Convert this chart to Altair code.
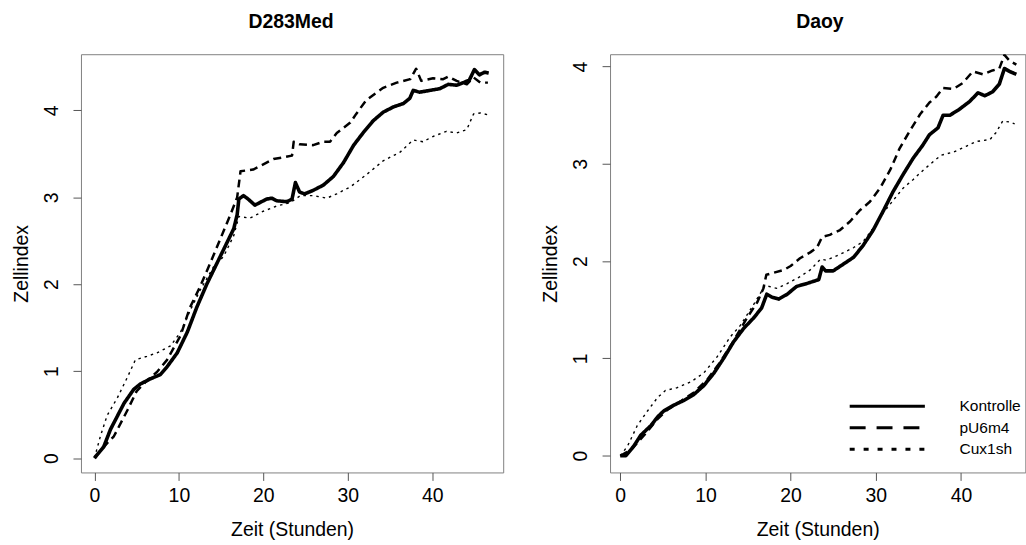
import altair as alt
import pandas as pd

# ---------------- data (time in hours, cell index) ----------------
SERIES = ["Kontrolle", "pU6m4", "Cux1sh"]

d283_kontrolle = [(0, 0), (1.1, 0.13), (1.9, 0.33), (3.5, 0.63), (4.65, 0.79), (5.4, 0.85), (6.6, 0.91),
                  (7.8, 0.96), (8.6, 1.05), (9.8, 1.21), (11.0, 1.45), (12.1, 1.73), (13.3, 2.0), (14.5, 2.24),
                  (15.7, 2.48), (16.5, 2.64), (16.9, 2.80), (17.1, 2.98), (17.65, 3.02), (18.2, 2.98),
                  (19.0, 2.91), (20.4, 2.98), (21.0, 2.99), (21.6, 2.96), (22.8, 2.95), (23.4, 2.98),
                  (23.8, 3.17), (24.3, 3.06), (24.9, 3.04), (25.9, 3.08), (27.1, 3.14), (28.3, 3.24),
                  (29.5, 3.40), (30.7, 3.60), (31.8, 3.74), (33.0, 3.88), (34.2, 3.98), (35.4, 4.04),
                  (36.6, 4.08), (37.35, 4.14), (37.75, 4.23), (38.5, 4.21), (39.7, 4.23), (40.9, 4.25),
                  (41.9, 4.30), (42.9, 4.29), (43.7, 4.32), (44.4, 4.35), (45.0, 4.47), (45.6, 4.41),
                  (46.2, 4.44), (46.7, 4.43)]
d283_pu6m4 = [(0, 0), (1.5, 0.17), (2.3, 0.25), (3.9, 0.55), (5.0, 0.77), (6.2, 0.89), (7.4, 0.99),
              (8.6, 1.13), (10.2, 1.41), (11.3, 1.73), (12.5, 1.97), (13.7, 2.24), (14.9, 2.52), (16.1, 2.80),
              (16.9, 3.0), (17.3, 3.30), (18.8, 3.32), (20.0, 3.38), (21.2, 3.44), (22.4, 3.46), (23.4, 3.48),
              (23.6, 3.64), (24.3, 3.61), (25.9, 3.60), (27.1, 3.64), (27.9, 3.64), (28.7, 3.74),
              (30.3, 3.86), (31.0, 3.96), (32.2, 4.12), (34.2, 4.26), (35.8, 4.32), (37.4, 4.36),
              (38.1, 4.48), (38.7, 4.34), (40.1, 4.37), (41.3, 4.36), (41.9, 4.39), (42.9, 4.34),
              (44.1, 4.30), (44.9, 4.38), (45.7, 4.32), (46.6, 4.32)]
d283_cux1sh = [(0, 0), (0.7, 0.25), (1.5, 0.49), (2.7, 0.69), (3.9, 0.93), (4.85, 1.13), (6.2, 1.17),
               (7.4, 1.21), (9.0, 1.29), (10.2, 1.45), (11.3, 1.69), (12.5, 1.93), (14.1, 2.20), (15.3, 2.32),
               (16.5, 2.56), (17.1, 2.78), (18.4, 2.76), (20.0, 2.84), (21.6, 2.90), (23.2, 2.94),
               (24.4, 3.02), (25.9, 3.02), (27.5, 2.99), (28.7, 3.04), (30.3, 3.12), (32.2, 3.26),
               (34.2, 3.42), (36.2, 3.52), (37.75, 3.66), (38.9, 3.64), (40.1, 3.70), (41.7, 3.76),
               (42.9, 3.74), (44.1, 3.78), (44.9, 3.96), (45.7, 3.97), (46.6, 3.95)]

daoy_kontrolle = [(0, 0), (0.66, 0), (1.6, 0.10), (2.4, 0.21), (3.6, 0.31), (4.4, 0.40), (5.1, 0.46),
                  (6.3, 0.52), (7.5, 0.57), (8.65, 0.63), (9.8, 0.72), (11.0, 0.85), (12.2, 1.01),
                  (13.3, 1.17), (14.5, 1.31), (15.7, 1.42), (16.6, 1.52), (17.2, 1.66), (17.8, 1.63),
                  (18.6, 1.61), (19.6, 1.66), (20.7, 1.74), (21.9, 1.77), (23.3, 1.81), (23.7, 1.94),
                  (24.1, 1.90), (25.0, 1.90), (26.2, 1.97), (27.4, 2.04), (28.5, 2.16), (29.7, 2.32),
                  (30.9, 2.52), (32.0, 2.71), (33.2, 2.89), (34.4, 3.06), (35.5, 3.19), (36.3, 3.30),
                  (37.3, 3.37), (37.9, 3.50), (38.7, 3.50), (39.8, 3.56), (41.0, 3.64), (42.0, 3.73),
                  (42.8, 3.70), (43.7, 3.74), (44.5, 3.82), (45.1, 3.98), (45.7, 3.95), (46.5, 3.92)]
daoy_pu6m4 = [(0, 0), (1.25, 0.06), (2.8, 0.21), (4.4, 0.38), (5.5, 0.47), (7.1, 0.56), (8.65, 0.65),
              (10.2, 0.78), (11.8, 0.97), (13.3, 1.18), (14.9, 1.42), (16.1, 1.58), (16.8, 1.72),
              (17.15, 1.86), (18.0, 1.88), (19.2, 1.91), (20.0, 1.95), (21.1, 2.03), (22.3, 2.09),
              (23.1, 2.14), (23.7, 2.25), (24.6, 2.27), (25.8, 2.32), (27.0, 2.41), (28.1, 2.52),
              (29.3, 2.61), (30.5, 2.75), (31.7, 2.94), (32.8, 3.16), (34.0, 3.34), (35.2, 3.51),
              (36.3, 3.63), (37.1, 3.69), (37.9, 3.78), (39.1, 3.77), (40.2, 3.83), (41.4, 3.95),
              (42.6, 3.92), (43.7, 3.96), (44.5, 3.98), (45.1, 4.12), (45.7, 4.06), (46.5, 4.02)]
daoy_cux1sh = [(0, 0), (0.86, 0.10), (2.0, 0.31), (3.2, 0.46), (4.4, 0.60), (5.3, 0.67), (6.7, 0.70),
               (8.3, 0.76), (9.8, 0.85), (11.4, 1.02), (12.9, 1.22), (14.1, 1.34), (15.7, 1.56),
               (17.0, 1.75), (18.4, 1.72), (19.6, 1.77), (21.1, 1.84), (22.3, 1.91), (23.5, 2.02),
               (24.2, 2.01), (25.8, 2.07), (27.4, 2.14), (28.5, 2.20), (29.7, 2.34), (30.9, 2.50),
               (32.0, 2.62), (33.2, 2.75), (34.4, 2.84), (35.5, 2.93), (36.7, 3.02), (37.7, 3.09),
               (39.1, 3.12), (40.6, 3.18), (41.8, 3.23), (43.4, 3.25), (44.1, 3.32), (44.9, 3.44),
               (45.7, 3.43), (46.3, 3.41)]

X_TICKS = [0, 10, 20, 30, 40]
Y_TICKS = [0, 1, 2, 3, 4]


def frame(parts):
    rows = []
    for name, pts in zip(SERIES, parts):
        for i, (t, v) in enumerate(pts):
            rows.append({"Serie": name, "t": t, "y": v, "order": i})
    return pd.DataFrame(rows)


df_left = frame([d283_kontrolle, d283_pu6m4, d283_cux1sh])
df_right = frame([daoy_kontrolle, daoy_pu6m4, daoy_cux1sh])

FONT = "Liberation Sans"
FS = 19.5
DASH_PLOT = [[1, 0], [8, 5], [2.5, 4]]
WIDTH_PLOT = [3.6, 1.4, 1.8]
DASH_LEGEND = [[1, 0], [16, 11], [5, 9]]
H = 420

# legend symbol: a long horizontal stroke drawn with a small nominal size
SYM_SIZE = 15.1 ** 2          # nominal symbol box 15.1 px -> compact rows
SYM_PATH = "M-5,0H5"          # path in units of sqrt(size)/2 -> 75.5 px long


def panel(df, title, xdom, ydom, width, title_dx, with_legend):
    x = alt.X("t:Q", scale=alt.Scale(domain=xdom, nice=False, zero=False),
              axis=alt.Axis(values=X_TICKS, title="Zeit (Stunden)", labelBaseline="alphabetic",
                            labelPadding=21.5, labelAlign="center", labelFlush=False, labelOverlap=False,
                            titleX=width / 2, titleY=63.3, titleAlign="center", titleBaseline="alphabetic"))
    y = alt.Y("y:Q", scale=alt.Scale(domain=ydom, nice=False, zero=False),
              axis=alt.Axis(values=Y_TICKS, title="Zellindex", labelAngle=270, labelAlign="center",
                            labelBaseline="alphabetic", labelPadding=16, labelFlush=False, labelOverlap=False,
                            titleAngle=270, titleX=-53.3, titleY=H / 2, titleAlign="center",
                            titleBaseline="alphabetic"))
    lines = alt.Chart(df).mark_line(color="black", strokeJoin="round", clip=True).encode(
        x=x, y=y, detail="Serie:N", order="order:Q",
        strokeDash=alt.StrokeDash("Serie:N", scale=alt.Scale(domain=SERIES, range=DASH_PLOT), legend=None),
        strokeWidth=alt.StrokeWidth("Serie:O", scale=alt.Scale(domain=SERIES, range=WIDTH_PLOT), legend=None),
    )
    layers = [lines]
    if with_legend:
        leg = alt.Chart(df).transform_filter("false").mark_line(color="black").encode(
            x=x, y=y,
            strokeDash=alt.StrokeDash(
                "Serie:N", scale=alt.Scale(domain=SERIES, range=DASH_LEGEND),
                legend=alt.Legend(orient="none", legendX=268.9, legendY=344, title=None,
                                  symbolType=SYM_PATH, symbolSize=SYM_SIZE, symbolStrokeWidth=3.2,
                                  symbolStrokeColor="black", labelFont=FONT, labelFontSize=15.6,
                                  labelColor="black", labelOffset=63, rowPadding=2.6, padding=0,
                                  labelLimit=200)),
        )
        layers.append(leg)
    ch = alt.layer(*layers).properties(
        width=width, height=H,
        title=alt.TitleParams(title, font=FONT, fontSize=FS, fontWeight="bold", color="black",
                              anchor="middle", offset=7, dx=title_dx, baseline="alphabetic"),
    )
    if with_legend:
        ch = ch.resolve_scale(strokeDash="independent")
    return ch


left = panel(df_left, "D283Med", [-1.60, 48.41], [-0.166, 4.647], 424, -1, False)
right = panel(df_right, "Daoy", [-1.20, 47.55], [-0.172, 4.127], 417, 2.2, True)

chart = alt.hconcat(left, right, spacing=36.3).resolve_scale(
    strokeDash="independent", strokeWidth="independent"
).resolve_legend(strokeDash="independent").properties(
    padding={"left": 11.3, "top": 10.3, "right": 0, "bottom": 0},
    background="white",
).configure_view(stroke="#808080", strokeWidth=1).configure_axis(
    domain=False, grid=False, ticks=True, tickColor="#555555", tickSize=8, tickWidth=1,
    labelFont=FONT, labelFontSize=FS, labelColor="black",
    titleFont=FONT, titleFontSize=FS, titleFontWeight="normal", titleColor="black",
)

chart.save("out.html", embed_options={"renderer": "svg", "actions": False})
